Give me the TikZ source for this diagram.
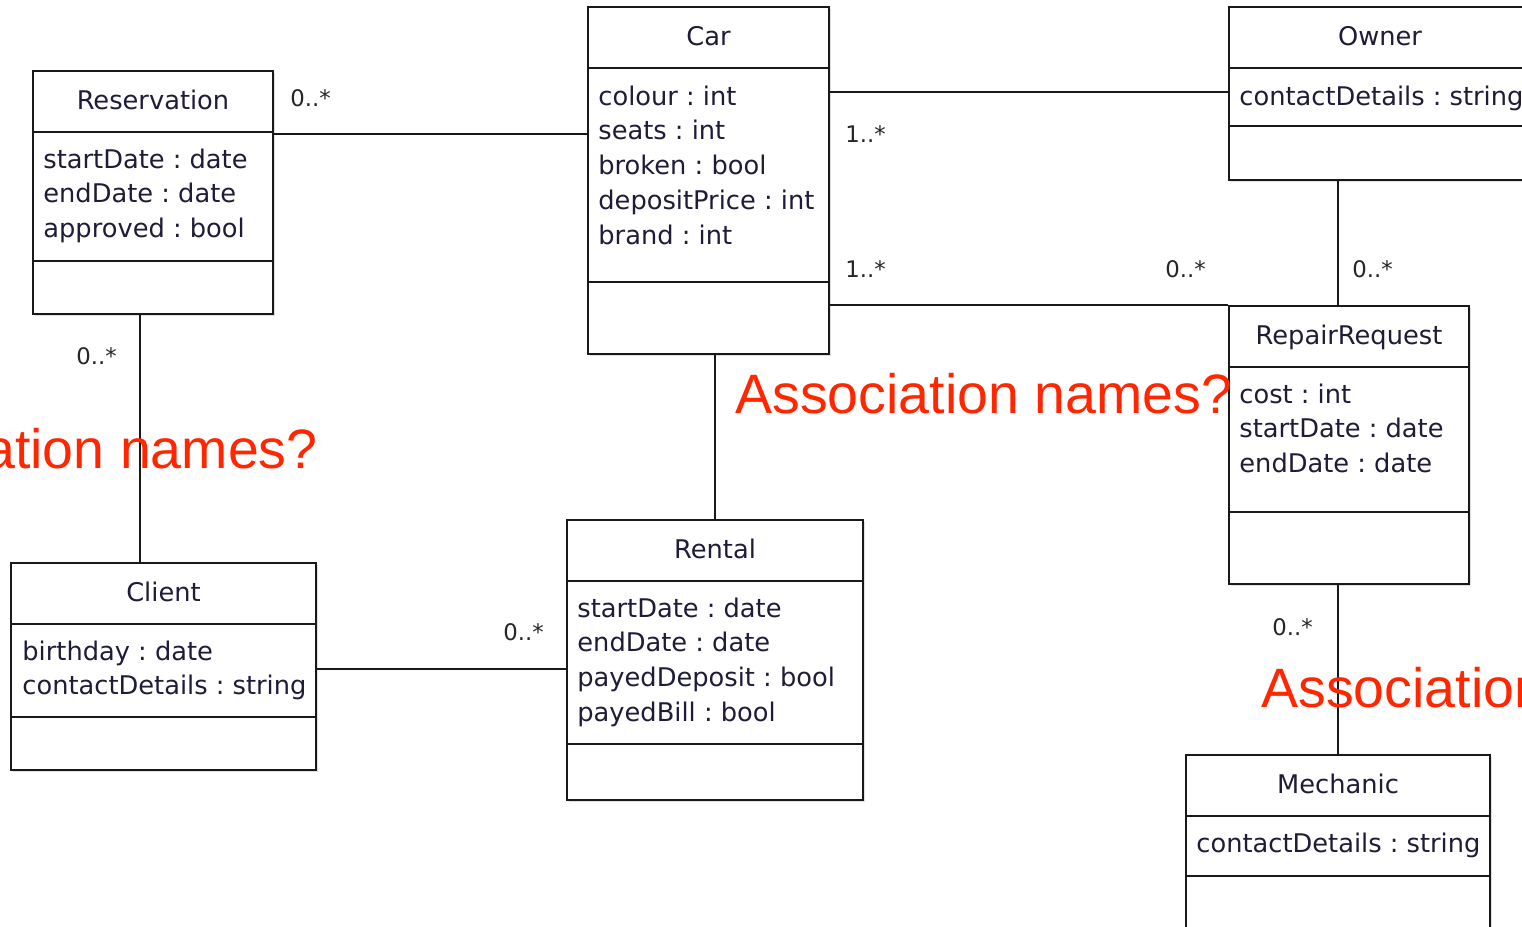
\documentclass[tikz,border=0pt]{standalone}
\usepackage{fontspec}
\setmainfont{DejaVu Sans}
\newfontfamily\redfont{Liberation Sans}
\usetikzlibrary{fit,shadows}
\definecolor{linec}{RGB}{25,25,25}
\definecolor{txtc}{RGB}{30,28,55}
\definecolor{redc}{RGB}{255,38,0}
\begin{document}
\frenchspacing
\begin{tikzpicture}[x=0.5pt,y=-0.5pt,
  cls/.style={draw=linec, line width=1.1pt, fill=white, inner sep=0pt,
    drop shadow={shadow xshift=1.2pt, shadow yshift=-1.2pt, opacity=0.25, fill=gray}},
  divider/.style={draw=linec, line width=1.1pt},
  assoc/.style={draw=linec, line width=1.1pt},
  title/.style={anchor=base, inner sep=0pt, text=txtc, font=\fontsize{12.85}{15}\selectfont},
  attr/.style={anchor=base west, inner sep=0pt, text=txtc, font=\fontsize{12.85}{15}\selectfont},
  mult/.style={anchor=base west, inner sep=0pt, text=black!85, font=\fontsize{11.4}{13}\selectfont},
  note/.style={inner sep=0pt, text=redc, font=\redfont\fontsize{27.75}{32}\selectfont}]
\path[use as bounding box] (0,0) rectangle (1522,927);
\clip (0,0) rectangle (1522,927);

% Reservation
\node[cls, fit={(33,71) (273,314)}] (res) {};
\draw[divider] (res.west |- 0,132) -- (res.east |- 0,132);
\draw[divider] (res.west |- 0,261) -- (res.east |- 0,261);
\node[title] (res-t) at (153,109) {Reservation};
\foreach \t [count=\i] in {startDate : date, endDate : date, approved : bool}
  \node[attr] (res-a\i) at ({43},{168+34.7*(\i-1)}) {\t};

% Car
\node[cls, fit={(588,7) (829,354)}] (car) {};
\draw[divider] (car.west |- 0,68) -- (car.east |- 0,68);
\draw[divider] (car.west |- 0,282) -- (car.east |- 0,282);
\node[title] (car-t) at (708.5,45) {Car};
\foreach \t [count=\i] in {colour : int, seats : int, broken : bool, depositPrice : int, brand : int}
  \node[attr] (car-a\i) at ({598},{105+34.75*(\i-1)}) {\t};

% Owner
\node[cls, fit={(1229,7) (1545,180)}] (own) {};
\draw[divider] (own.west |- 0,68) -- (own.east |- 0,68);
\draw[divider] (own.west |- 0,126) -- (own.east |- 0,126);
\node[title] (own-t) at (1380,45) {Owner};
\node[attr] (own-a1) at (1239,105) {contactDetails : string};

% RepairRequest
\node[cls, fit={(1229,306) (1469,584)}] (rr) {};
\draw[divider] (rr.west |- 0,367) -- (rr.east |- 0,367);
\draw[divider] (rr.west |- 0,512) -- (rr.east |- 0,512);
\node[title] (rr-t) at (1349,344) {RepairRequest};
\foreach \t [count=\i] in {cost : int, startDate : date, endDate : date}
  \node[attr] (rr-a\i) at ({1239},{403+34.7*(\i-1)}) {\t};

% Mechanic
\node[cls, fit={(1186,755) (1490,950)}] (mech) {};
\draw[divider] (mech.west |- 0,816) -- (mech.east |- 0,816);
\draw[divider] (mech.west |- 0,876) -- (mech.east |- 0,876);
\node[title] (mech-t) at (1338,793) {Mechanic};
\node[attr] (mech-a1) at (1196,852) {contactDetails : string};

% Client
\node[cls, fit={(11,563) (316,770)}] (cli) {};
\draw[divider] (cli.west |- 0,624) -- (cli.east |- 0,624);
\draw[divider] (cli.west |- 0,717) -- (cli.east |- 0,717);
\node[title] (cli-t) at (163.5,601) {Client};
\foreach \t [count=\i] in {birthday : date, contactDetails : string}
  \node[attr] (cli-a\i) at ({22},{660+34.7*(\i-1)}) {\t};

% Rental
\node[cls, fit={(567,520) (863,800)}] (ren) {};
\draw[divider] (ren.west |- 0,581) -- (ren.east |- 0,581);
\draw[divider] (ren.west |- 0,744) -- (ren.east |- 0,744);
\node[title] (ren-t) at (715,558) {Rental};
\foreach \t [count=\i] in {startDate : date, endDate : date, payedDeposit : bool, payedBill : bool}
  \node[attr] (ren-a\i) at ({577},{617+34.75*(\i-1)}) {\t};

% Associations
\draw[assoc] (res.east |- 0,134) -- (car.west |- 0,134);
\draw[assoc] (car.east |- 0,92) -- (own.west |- 0,92);
\draw[assoc] (car.east |- rr.north) -- (rr.north west);
\draw[assoc] (own.south -| mech.north) -- (rr.north -| mech.north);
\draw[assoc] (rr.south -| mech.north) -- (mech.north);
\draw[assoc] (res.south -| 140,0) -- (cli.north -| 140,0);
\draw[assoc] (car.south -| ren.north) -- (ren.north);
\draw[assoc] (cli.east |- 0,669) -- (ren.west |- 0,669);

% Multiplicities
\node[mult] (m1) at (290,106) {0..*};
\node[mult] (m2) at (845,142) {1..*};
\node[mult] (m3) at (845,277) {1..*};
\node[mult] (m4) at (1165,277) {0..*};
\node[mult] (m5) at (1352,277) {0..*};
\node[mult] (m6) at (1272,635) {0..*};
\node[mult] (m7) at (76,364) {0..*};
\node[mult] (m8) at (503,640) {0..*};

% Notes
\node[note, anchor=base east] (n1) at (318,468) {Association names?};
\node[note, anchor=base west] (n2) at (735,413) {Association names?};
\node[note, anchor=base west] (n3) at (1261,707) {Association names?};
\end{tikzpicture}
\end{document}
